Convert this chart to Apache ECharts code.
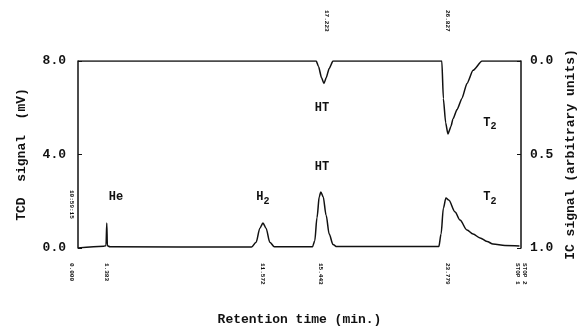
<!DOCTYPE html>
<html>
<head>
<meta charset="utf-8">
<script src="https://cdn.jsdelivr.net/npm/echarts@6/dist/echarts.min.js"></script>
<style>
  html, body { margin: 0; padding: 0; background: #fff; }
  #chart { width: 584px; height: 329px; }
</style>
</head>
<body>
<div id="chart"></div>
<script>
// 保留时间 (min) 与信号值
const tcdTime = [-0.5, 1.2, 1.34, 1.39, 1.43, 1.6, 10.9, 11.2, 11.45, 11.65, 11.85, 12.1, 12.4,
  14.9, 15.05, 15.2, 15.35, 15.45, 15.6, 15.8, 16.0, 16.25, 16.5,
  23.2, 23.35, 23.5, 23.67, 23.85, 24.27, 24.59, 25.05, 25.45, 25.91, 26.37, 26.76, 27.55, 28.5]
const tcdSignal = [0.0, 0.08, 0.1, 1.07, 0.1, 0.05, 0.04, 0.25, 0.85, 1.07, 0.85, 0.25, 0.05,
  0.05, 0.3, 1.3, 2.2, 2.4, 2.2, 1.4, 0.6, 0.15, 0.06,
  0.06, 0.6, 1.7, 2.14, 2.05, 1.54, 1.2, 0.77, 0.6, 0.43, 0.28, 0.17, 0.11, 0.09]

const icTime = [-0.5, 15.15, 15.3, 15.5, 15.66, 15.8, 16.0, 16.25,
  23.4, 23.5, 23.65, 23.8, 24.0, 24.13, 24.4, 24.72, 25.05, 25.45, 26.04, 28.6]
const icSignal = [0, 0, 0.03, 0.09, 0.12, 0.09, 0.04, 0,
  0, 0.2, 0.33, 0.39, 0.35, 0.31, 0.26, 0.2, 0.12, 0.05, 0, 0]

// 峰标注
const peakNames = ['He', 'H{s|2}', 'HT', 'HT', 'T{s|2}', 'T{s|2}']
const peakTimes = [2.0, 11.65, 15.53, 15.53, 26.56, 26.56]
const peakAxis = ['tcd', 'tcd', 'tcd', 'ic', 'ic', 'tcd']
const peakLevels = [2.18, 2.18, 3.47, 0.25, 0.33, 2.18]

// 积分仪打印的保留时间
const bottomStamps = ['0.000', '1.383', '11.572', '15.443', '23.779', 'STOP 1', 'STOP 2']
const bottomStampTimes = [-0.95, 1.4, 11.6, 15.4, 23.8, 28.4, 28.85]
const topStamps = ['17.223', '26.827']
const topStampTimes = [15.85, 23.8]

const font = '"Liberation Mono", "DejaVu Sans Mono", monospace'
const ink = '#111'

const chart = echarts.init(document.getElementById('chart'))
chart.setOption({
  animation: false,
  textStyle: { fontFamily: font, color: ink },
  grid: { left: 78, right: 63, top: 61, bottom: 81, outerBoundsMode: 'none', containLabel: false },
  xAxis: {
    type: 'value',
    min: -0.5,
    max: 28.6,
    name: 'Retention time (min.)',
    nameLocation: 'middle',
    nameGap: 65,
    nameTextStyle: { fontFamily: font, fontWeight: 'bold', fontSize: 13, color: ink },
    axisLine: { show: false, onZero: false },
    axisTick: { show: false },
    axisLabel: { show: false },
    splitLine: { show: false },
  },
  yAxis: [
    {
      type: 'value',
      min: 0,
      max: 8,
      interval: 4,
      name: 'TCD  signal  (mV)',
      nameLocation: 'middle',
      nameRotate: 90,
      nameGap: 50,
      nameTextStyle: { fontFamily: font, fontWeight: 'bold', fontSize: 13, color: ink },
      axisLine: { show: true, onZero: false, lineStyle: { color: ink, width: 1.5 } },
      axisTick: { show: true, inside: true, length: 4, lineStyle: { color: ink } },
      axisLabel: {
        margin: 12,
        fontFamily: font,
        fontWeight: 'bold',
        fontSize: 13,
        color: ink,
        formatter: (v) => v.toFixed(1),
      },
      splitLine: { show: false },
    },
    {
      type: 'value',
      min: 0,
      max: 1,
      interval: 0.5,
      inverse: true,
      position: 'right',
      name: 'IC signal (arbitrary units)',
      nameLocation: 'middle',
      nameRotate: 90,
      nameGap: 43,
      nameTextStyle: { fontFamily: font, fontWeight: 'bold', fontSize: 13, color: ink },
      axisLine: { show: true, onZero: false, lineStyle: { color: ink, width: 1.5 } },
      axisTick: { show: true, inside: true, length: 4, lineStyle: { color: ink } },
      axisLabel: {
        margin: 9,
        fontFamily: font,
        fontWeight: 'bold',
        fontSize: 13,
        color: ink,
        formatter: (v) => v.toFixed(1),
      },
      splitLine: { show: false },
    },
  ],
  series: [
    {
      name: 'TCD',
      type: 'line',
      yAxisIndex: 0,
      data: tcdTime.map((t, i) => [t, tcdSignal[i]]),
      showSymbol: false,
      smooth: 0.3,
      smoothMonotone: 'x',
      lineStyle: { color: ink, width: 1.5 },
    },
    {
      name: 'IC',
      type: 'line',
      yAxisIndex: 1,
      data: icTime.map((t, i) => [t, icSignal[i]]),
      showSymbol: false,
      smooth: 0.2,
      smoothMonotone: 'x',
      lineStyle: { color: ink, width: 1.5 },
    },
  ],
})

// 标注与打印时间，按坐标轴换算到像素
const graphics = []
const axisFinder = { tcd: { xAxisIndex: 0, yAxisIndex: 0 }, ic: { xAxisIndex: 0, yAxisIndex: 1 } }
peakNames.forEach((name, i) => {
  const [x, y] = chart.convertToPixel(axisFinder[peakAxis[i]], [peakTimes[i], peakLevels[i]])
  graphics.push({
    type: 'text',
    x: x,
    y: y,
    style: {
      text: name,
      align: 'center',
      verticalAlign: 'middle',
      font: 'bold 12px ' + font,
      fill: ink,
      rich: { s: { font: 'bold 10px ' + font, fill: ink, padding: [8, 0, 0, 0] } },
    },
  })
})
bottomStamps.forEach((s, i) => {
  const [x] = chart.convertToPixel(axisFinder.tcd, [bottomStampTimes[i], 0])
  graphics.push({
    type: 'text',
    x: x,
    y: 263,
    rotation: -Math.PI / 2,
    style: { text: s, align: 'left', verticalAlign: 'middle', font: 'bold 6px ' + font, fill: ink },
  })
})
topStamps.forEach((s, i) => {
  const [x] = chart.convertToPixel(axisFinder.tcd, [topStampTimes[i], 0])
  graphics.push({
    type: 'text',
    x: x,
    y: 10,
    rotation: -Math.PI / 2,
    style: { text: s, align: 'left', verticalAlign: 'middle', font: 'bold 6px ' + font, fill: ink },
  })
})
graphics.push({
  type: 'text',
  x: 72,
  y: 190,
  rotation: -Math.PI / 2,
  style: { text: '10:59:15', align: 'left', verticalAlign: 'middle', font: 'bold 6px ' + font, fill: ink },
})
chart.setOption({ graphic: graphics })
</script>
</body>
</html>
